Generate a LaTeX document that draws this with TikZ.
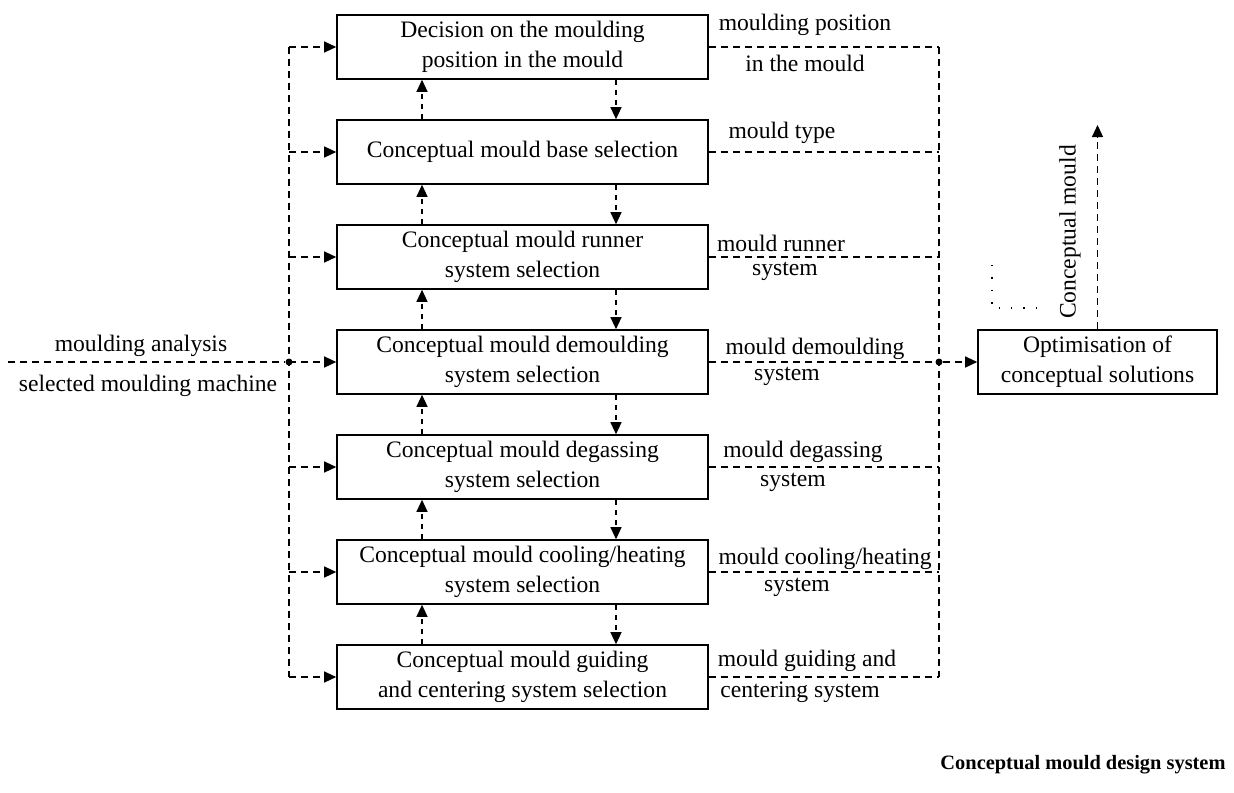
\documentclass[tikz,border=0pt]{standalone}
\usepackage{fontspec}
\setmainfont{Liberation Serif}
\usetikzlibrary{arrows.meta}
\begin{document}
\begin{tikzpicture}[x=0.5pt,y=-0.5pt,
  box/.style={draw,line width=0.8pt,minimum width=185.5pt,minimum height=32pt,align=center,inner sep=1pt,font=\fontsize{11.8}{15}\selectfont},
  optbox/.style={box,minimum width=119.5pt},
  lbl/.style={font=\fontsize{11.8}{15}\selectfont,inner sep=0pt},
  blbl/.style={lbl,anchor=base},
  dline/.style={line width=0.6pt,dash pattern=on 3.5pt off 2.5pt},
  vline/.style={line width=0.6pt,dash pattern=on 2.5pt off 2.5pt},
  dotline/.style={line width=0.7pt,dash pattern=on 0.7pt off 5.5pt},
  tip/.style={-{Triangle[length=6pt,width=5.5pt]}},
  jdot/.style={circle,fill,inner sep=0pt,minimum size=3.5pt}]
\useasboundingbox (0,0) rectangle (1234,792);

% main boxes
\node[box] (b1) at (522.5,47) {Decision on the moulding\\position in the mould};
\node[box] (b2) at (522.5,152) {Conceptual mould base selection};
\node[box] (b3) at (522.5,257) {Conceptual mould runner\\system selection};
\node[box] (b4) at (522.5,362) {Conceptual mould demoulding\\system selection};
\node[box] (b5) at (522.5,467) {Conceptual mould degassing\\system selection};
\node[box] (b6) at (522.5,572) {Conceptual mould cooling/heating\\system selection};
\node[box] (b7) at (522.5,677) {Conceptual mould guiding\\and centering system selection};

\node[optbox] (opt) at (1097.5,362) {Optimisation of\\conceptual solutions};

% helper coordinates
\coordinate (ux) at (422,0);
\coordinate (dx) at (616,0);
\coordinate (lx) at (289,0);
\coordinate (rx) at (939,0);
\coordinate (in) at (8,362);
\coordinate (out) at (1097.5,125);
\coordinate (d1) at (992,265);
\coordinate (d2) at (992,308);
\coordinate (d3) at (1037,308);

% vertical arrows between boxes
\foreach \i/\j in {1/2,2/3,3/4,4/5,5/6,6/7}{
  \draw[vline,tip] (b\j.north -| ux) -- (b\i.south -| ux);
  \draw[vline,tip] (b\i.south -| dx) -- (b\j.north -| dx);
}

% left distribution
\draw[dline] (b1.west -| lx) -- (b7.west -| lx);
\foreach \i in {1,...,7}{
  \draw[dline,tip] (b\i.west -| lx) -- (b\i.west);
}
\node[jdot] (jl) at (b4.west -| lx) {};
\draw[dline] (in) -- (jl);

% right collection
\draw[dline] (b1.east -| rx) -- (b7.east -| rx);
\foreach \i in {1,...,7}{
  \draw[dline] (b\i.east) -- (b\i.east -| rx);
}
\node[jdot] (jr) at (b4.east -| rx) {};
\draw[dline,tip] (jr) -- (opt.west);
\draw[dline,tip] (opt.north) -- (out);

% dotted corner
\draw[dotline] (d1) -- (d2) -- (d3);

% labels
\node[blbl] (lin1) at (141,351) {moulding analysis};
\node[blbl] (lin2) at (148,391) {selected moulding machine};

\node[blbl] (l1a) at (805,31) {moulding position};
\node[blbl] (l1b) at (805,72) {in the mould};
\node[blbl] (l2) at (782,138) {mould type};
\node[blbl] (l3a) at (781,251) {mould runner};
\node[blbl] (l3b) at (785,275) {system};
\node[blbl] (l4a) at (815,354) {mould demoulding};
\node[blbl] (l4b) at (787,380) {system};
\node[blbl] (l5a) at (803,457) {mould degassing};
\node[blbl] (l5b) at (793,486) {system};
\node[blbl] (l6a) at (825,564) {mould cooling/heating};
\node[blbl] (l6b) at (797,591) {system};
\node[blbl] (l7a) at (807,666) {mould guiding and};
\node[blbl] (l7b) at (800,697) {centering system};

\node[lbl,rotate=90] (cm) at (1070,232) {Conceptual mould};

\node[lbl,font=\fontsize{10.2}{12}\selectfont\bfseries] (title) at (1083,765) {Conceptual mould design system};
\end{tikzpicture}
\end{document}
